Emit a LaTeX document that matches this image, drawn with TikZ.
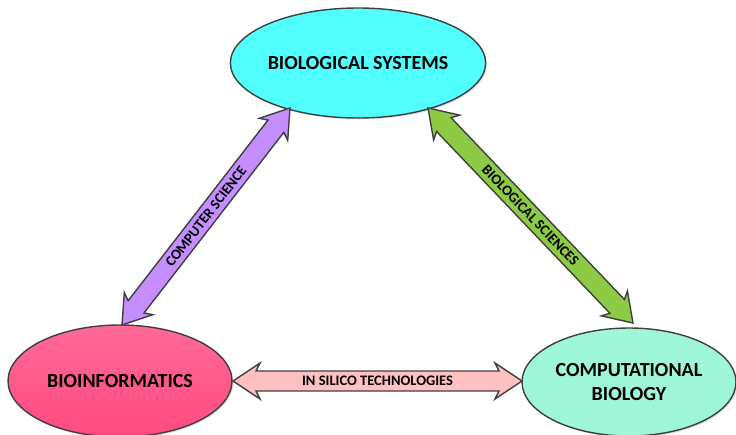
\documentclass[tikz,border=0pt]{standalone}
\usepackage{fontspec}
\setmainfont{Carlito}
\usetikzlibrary{calc,shapes.geometric,shadows}
\definecolor{cyanfill}{HTML}{52FFFF}
\definecolor{pinkfill}{HTML}{FF5A8C}
\definecolor{pinktop}{HTML}{FF6A98}
\definecolor{pinkbot}{HTML}{FF4A80}
\definecolor{mintfill}{HTML}{9EF7D8}
\definecolor{purplefill}{HTML}{C48EFF}
\definecolor{greenfill}{HTML}{8DCB45}
\definecolor{salmonfill}{HTML}{FFC0C0}
\definecolor{edge}{HTML}{3F3F3F}
\newcommand{\dblarrow}[3]{%
  \fill[#3,draw=edge,line width=1.4pt,line join=miter]
    (#1)
    -- ($($(#1)!27pt!(#2)$)!18pt!90:(#2)$)
    -- ($($(#1)!23pt!(#2)$)!10pt!90:(#2)$)
    -- ($($(#2)!23pt!(#1)$)!10pt!-90:(#1)$)
    -- ($($(#2)!27pt!(#1)$)!18pt!-90:(#1)$)
    -- (#2)
    -- ($($(#2)!27pt!(#1)$)!18pt!90:(#1)$)
    -- ($($(#2)!23pt!(#1)$)!10pt!90:(#1)$)
    -- ($($(#1)!23pt!(#2)$)!10pt!-90:(#2)$)
    -- ($($(#1)!27pt!(#2)$)!18pt!-90:(#2)$)
    -- cycle;}
\tikzset{
  bubble/.style={ellipse,draw=edge,line width=1.4pt,inner sep=0pt,
    font=\bfseries\fontsize{20}{24}\selectfont,align=center,
    drop shadow={opacity=0.25,shadow xshift=1.5pt,shadow yshift=-1.5pt}},
  arrowlabel/.style={font=\bfseries\fontsize{14.5}{16}\selectfont,sloped,inner sep=0pt}
}
\begin{document}
\begin{tikzpicture}[x=1pt,y=-1pt]
\useasboundingbox (0,0) rectangle (736,434);
\node[bubble,fill=cyanfill,minimum width=222pt,minimum height=110pt] (bs) at (358,63) {BIOLOGICAL SYSTEMS};
\node[bubble,top color=pinktop,bottom color=pinkbot,minimum width=224pt,minimum height=112pt] (bi) at (120,381) {BIOINFORMATICS};
\node[bubble,fill=mintfill,minimum width=214pt,minimum height=108pt] (cb) at (629,382) {COMPUTATIONAL\\BIOLOGY};
\coordinate (p1) at (122,325);
\coordinate (p2) at (290,108);
\coordinate (g1) at (428,108);
\coordinate (g2) at (633,323);
\coordinate (s1) at (233,381);
\coordinate (s2) at (522,381);
\dblarrow{p1}{p2}{purplefill}
\dblarrow{g1}{g2}{greenfill}
\dblarrow{s1}{s2}{salmonfill}
\path (p1) -- node[arrowlabel] (lcs) {COMPUTER SCIENCE} (p2);
\path (g1) -- node[arrowlabel] (lbs) {BIOLOGICAL SCIENCES} (g2);
\path (s1) -- node[arrowlabel] (lis) {IN SILICO TECHNOLOGIES} (s2);
\end{tikzpicture}
\end{document}
